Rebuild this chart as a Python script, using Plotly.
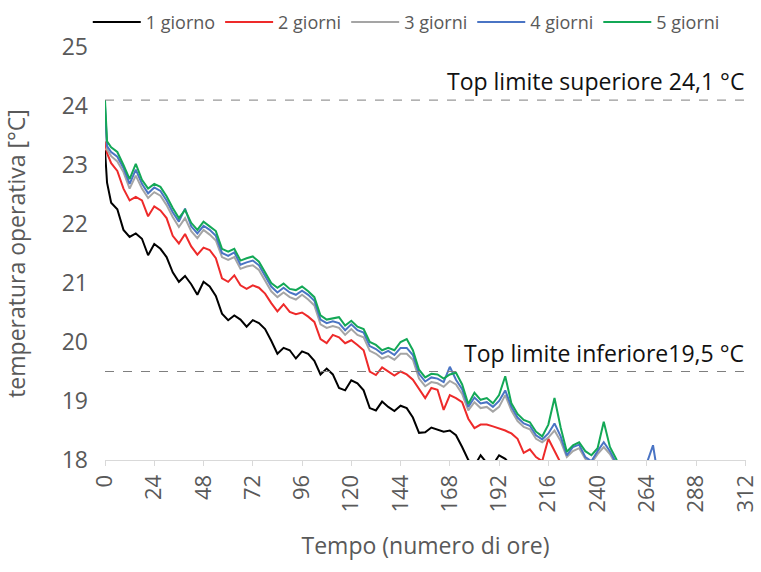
import plotly.graph_objects as go

# hours on the x axis (first point at 0, then 1, then every 3 hours)
HOURS = [0, 1] + list(range(3, 271, 3))

SERIES_NAMES = ["1 giorno", "2 giorni", "3 giorni", "4 giorni", "5 giorni"]

giorni_1 = [23.25, 22.70, 22.36, 22.25, 21.90, 21.78, 21.84, 21.75, 21.47, 21.66,
            21.58, 21.44, 21.18, 21.02, 21.12, 20.98, 20.80, 21.02, 20.94, 20.78,
            20.48, 20.37, 20.45, 20.38, 20.26, 20.37, 20.32, 20.22, 20.02, 19.80,
            19.90, 19.86, 19.72, 19.84, 19.80, 19.68, 19.45, 19.55, 19.45, 19.22,
            19.18, 19.35, 19.30, 19.18, 18.88, 18.84, 18.99, 18.90, 18.83, 18.92,
            18.88, 18.72, 18.46, 18.47, 18.55, 18.52, 18.48, 18.50, 18.42, 18.22,
            18.00, 17.90, 18.08, 17.95, 17.92, 18.08, 18.02, 17.90, 17.70]

giorni_2 = [23.40, 23.20, 23.03, 22.90, 22.60, 22.40, 22.46, 22.40, 22.13, 22.30,
            22.23, 22.10, 21.80, 21.67, 21.83, 21.62, 21.48, 21.60, 21.56, 21.42,
            21.08, 21.02, 21.13, 20.96, 20.90, 20.96, 20.92, 20.82, 20.66, 20.52,
            20.64, 20.51, 20.47, 20.50, 20.43, 20.34, 20.05, 19.98, 20.12, 20.08,
            19.98, 20.03, 19.95, 19.86, 19.50, 19.44, 19.57, 19.50, 19.43, 19.50,
            19.45, 19.36, 19.20, 19.05, 19.22, 19.19, 18.85, 19.10, 19.05, 18.98,
            18.70, 18.54, 18.60, 18.60, 18.57, 18.54, 18.50, 18.45, 18.36, 18.12,
            18.18, 18.05, 17.98, 18.36, 18.15, 17.95, 17.85, 17.75]

giorni_3 = [23.90, 23.26, 23.15, 23.06, 22.88, 22.60, 22.82, 22.60, 22.44, 22.54,
            22.48, 22.32, 22.12, 21.95, 22.10, 21.88, 21.76, 21.90, 21.82, 21.72,
            21.44, 21.39, 21.44, 21.24, 21.28, 21.30, 21.22, 21.04, 20.86, 20.76,
            20.84, 20.76, 20.72, 20.80, 20.72, 20.62, 20.30, 20.24, 20.27, 20.24,
            20.12, 20.22, 20.12, 20.08, 19.85, 19.80, 19.72, 19.76, 19.70, 19.80,
            19.80, 19.70, 19.38, 19.25, 19.32, 19.30, 19.24, 19.34, 19.28, 19.12,
            18.84, 18.98, 18.88, 18.90, 18.82, 18.90, 19.10, 18.84, 18.66, 18.56,
            18.52, 18.36, 18.30, 18.38, 18.50, 18.32, 18.05, 18.15, 18.20, 18.02,
            17.95, 18.10, 18.22, 18.10, 17.92, 17.80]

giorni_4 = [24.00, 23.32, 23.22, 23.14, 22.95, 22.68, 22.92, 22.68, 22.52, 22.62,
            22.56, 22.40, 22.20, 22.04, 22.26, 21.96, 21.84, 21.97, 21.90, 21.80,
            21.51, 21.46, 21.52, 21.31, 21.35, 21.38, 21.30, 21.11, 20.94, 20.84,
            20.92, 20.84, 20.80, 20.87, 20.80, 20.70, 20.38, 20.32, 20.35, 20.32,
            20.20, 20.30, 20.20, 20.16, 19.93, 19.88, 19.80, 19.85, 19.78, 19.90,
            19.90, 19.78, 19.46, 19.33, 19.40, 19.38, 19.32, 19.58, 19.36, 19.20,
            18.90, 19.06, 18.96, 18.98, 18.90, 19.00, 19.18, 18.90, 18.72, 18.62,
            18.58, 18.42, 18.35, 18.45, 18.62, 18.40, 18.08, 18.22, 18.26, 18.05,
            17.98, 18.15, 18.30, 18.15, 17.95, 17.80, 17.70, 17.70, 17.75, 17.95,
            18.25, 17.60]

giorni_5 = [24.10, 23.40, 23.30, 23.22, 23.00, 22.76, 23.02, 22.75, 22.60, 22.68,
            22.63, 22.47, 22.27, 22.10, 22.24, 22.02, 21.90, 22.04, 21.96, 21.88,
            21.58, 21.53, 21.58, 21.38, 21.42, 21.45, 21.36, 21.18, 21.00, 20.92,
            20.99, 20.90, 20.88, 20.94, 20.86, 20.76, 20.45, 20.38, 20.40, 20.42,
            20.28, 20.36, 20.26, 20.22, 20.00, 19.95, 19.86, 19.90, 19.86, 20.00,
            20.05, 19.86, 19.53, 19.40, 19.46, 19.45, 19.38, 19.45, 19.48, 19.28,
            18.95, 19.14, 19.02, 19.05, 18.96, 19.10, 19.42, 18.96, 18.78, 18.68,
            18.64, 18.48, 18.40, 18.60, 19.05, 18.55, 18.14, 18.25, 18.30, 18.15,
            18.08, 18.20, 18.65, 18.22, 18.02, 17.80]

SERIES = [giorni_1, giorni_2, giorni_3, giorni_4, giorni_5]
COLORS = ["#000000", "#ee2a2a", "#a5a5a5", "#4a74c4", "#13a856"]

LIMIT_UP = 24.1
LIMIT_LOW = 19.5
X_TICKS = list(range(0, 313, 24))
Y_TICKS = [18, 19, 20, 21, 22, 23, 24, 25]

FONT = "Open Sans"
GREY = "#595959"

fig = go.Figure()
for name, vals, col in zip(SERIES_NAMES, SERIES, COLORS):
    fig.add_trace(go.Scatter(x=HOURS[:len(vals)], y=vals, mode="lines", name=name,
                             line=dict(color=col, width=2)))

for lim in (LIMIT_UP, LIMIT_LOW):
    fig.add_shape(type="line", xref="paper", x0=0, x1=1, yref="y", y0=lim, y1=lim,
                  line=dict(color="#7f7f7f", width=1, dash="dash"))

fig.add_annotation(text="Top limite superiore 24,1 °C", xref="paper", x=1, xanchor="right",
                   yref="y", y=LIMIT_UP, yanchor="bottom", yshift=1, showarrow=False,
                   font=dict(family=FONT, size=23, color="#111111"))
fig.add_annotation(text="Top limite inferiore19,5 °C", xref="paper", x=1, xanchor="right",
                   yref="y", y=LIMIT_LOW, yanchor="bottom", yshift=1, showarrow=False,
                   font=dict(family=FONT, size=23, color="#111111"))

fig.update_layout(
    width=761, height=572,
    margin=dict(l=105, r=15, t=47, b=112, autoexpand=False),
    paper_bgcolor="white", plot_bgcolor="white",
    font=dict(family=FONT, color=GREY),
    showlegend=True,
    legend=dict(orientation="h", x=0.47, xanchor="center", y=1.06, yanchor="middle",
                font=dict(size=18, color=GREY), itemwidth=48, tracegroupgap=0,
                bgcolor="rgba(0,0,0,0)"),
    xaxis=dict(range=[0, 312.3], tickvals=X_TICKS, tickangle=-90, automargin=False,
               showgrid=False, zeroline=False, showline=True, linecolor="#d9d9d9",
               linewidth=1, ticks="outside", ticklen=5, tickcolor="#d9d9d9",
               ticklabeloverflow="allow",
               tickfont=dict(size=22, color=GREY),
               title=dict(text="Tempo (numero di ore)", font=dict(size=23, color=GREY),
                          standoff=26)),
    yaxis=dict(range=[18, 25], tickvals=Y_TICKS, showgrid=False, zeroline=False,
               showline=False, ticks="", tickfont=dict(size=23, color=GREY),
               ticklabelstandoff=16, automargin=False,
               title=dict(text="temperatura operativa [°C]", font=dict(size=23, color=GREY),
                          standoff=29)),
)

fig.write_html("out.html", config={"displayModeBar": False},
               post_script="document.body.style.margin='0px';")
